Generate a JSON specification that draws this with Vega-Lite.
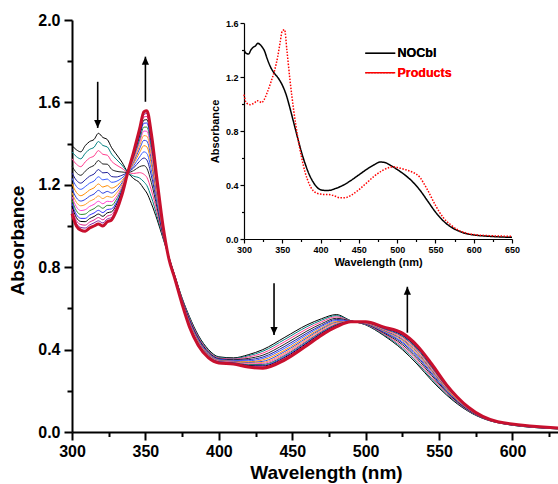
{
"$schema":"https://vega.github.io/schema/vega-lite/v6.json",
"width":486,"height":412,
"autosize":{"type":"none"},
"padding":{"left":72,"top":20,"right":0,"bottom":52},
"background":"white",
"config":{"view":{"stroke":null},"font":"Liberation Sans",
"axis":{"grid":false,"domainColor":"#000","tickColor":"#000","labelColor":"#000","titleColor":"#000","labelFontWeight":"bold","titleFontWeight":"bold","labelFont":"Liberation Sans","titleFont":"Liberation Sans","labelFlush":false,"labelOverlap":false}},
"datasets":{
"arrows":[{"w":317.5,"a":1.476,"a2":1.70,"dir":"down"},{"w":350,"a":1.822,"a2":1.603,"dir":"up"},{"w":437.6,"a":0.471,"a2":0.722,"dir":"down"},{"w":528.4,"a":0.705,"a2":0.482,"dir":"up"}],
"inset":[
{"s":"NOCbl","w":300,"a":1.40},{"s":"NOCbl","w":303,"a":1.375},{"s":"NOCbl","w":306,"a":1.37},{"s":"NOCbl","w":309,"a":1.40},{"s":"NOCbl","w":312,"a":1.42},{"s":"NOCbl","w":315,"a":1.43},{"s":"NOCbl","w":318,"a":1.45},{"s":"NOCbl","w":321,"a":1.44},{"s":"NOCbl","w":324,"a":1.42},{"s":"NOCbl","w":327,"a":1.39},{"s":"NOCbl","w":330,"a":1.34},{"s":"NOCbl","w":335,"a":1.27},{"s":"NOCbl","w":340,"a":1.225},{"s":"NOCbl","w":345,"a":1.19},{"s":"NOCbl","w":350,"a":1.14},{"s":"NOCbl","w":355,"a":1.07},{"s":"NOCbl","w":360,"a":0.97},{"s":"NOCbl","w":365,"a":0.86},{"s":"NOCbl","w":370,"a":0.75},{"s":"NOCbl","w":375,"a":0.645},{"s":"NOCbl","w":380,"a":0.555},{"s":"NOCbl","w":385,"a":0.48},{"s":"NOCbl","w":390,"a":0.425},{"s":"NOCbl","w":395,"a":0.385},{"s":"NOCbl","w":400,"a":0.365},{"s":"NOCbl","w":405,"a":0.36},{"s":"NOCbl","w":410,"a":0.36},{"s":"NOCbl","w":420,"a":0.375},{"s":"NOCbl","w":430,"a":0.40},{"s":"NOCbl","w":440,"a":0.435},{"s":"NOCbl","w":450,"a":0.475},{"s":"NOCbl","w":460,"a":0.515},{"s":"NOCbl","w":470,"a":0.55},{"s":"NOCbl","w":478,"a":0.57},{"s":"NOCbl","w":485,"a":0.565},{"s":"NOCbl","w":490,"a":0.55},{"s":"NOCbl","w":500,"a":0.515},{"s":"NOCbl","w":510,"a":0.475},{"s":"NOCbl","w":520,"a":0.425},{"s":"NOCbl","w":530,"a":0.36},{"s":"NOCbl","w":540,"a":0.28},{"s":"NOCbl","w":550,"a":0.20},{"s":"NOCbl","w":560,"a":0.135},{"s":"NOCbl","w":570,"a":0.09},{"s":"NOCbl","w":580,"a":0.06},{"s":"NOCbl","w":590,"a":0.04},{"s":"NOCbl","w":600,"a":0.03},{"s":"NOCbl","w":620,"a":0.02},{"s":"NOCbl","w":650,"a":0.012},
{"s":"Products","w":300,"a":1.07},{"s":"Products","w":302,"a":1.02},{"s":"Products","w":305,"a":1.00},{"s":"Products","w":308,"a":0.995},{"s":"Products","w":311,"a":1.00},{"s":"Products","w":314,"a":1.01},{"s":"Products","w":317,"a":1.025},{"s":"Products","w":320,"a":1.02},{"s":"Products","w":323,"a":1.01},{"s":"Products","w":326,"a":1.03},{"s":"Products","w":330,"a":1.08},{"s":"Products","w":335,"a":1.16},{"s":"Products","w":340,"a":1.25},{"s":"Products","w":344,"a":1.35},{"s":"Products","w":347,"a":1.45},{"s":"Products","w":350,"a":1.54},{"s":"Products","w":353,"a":1.55},{"s":"Products","w":356,"a":1.40},{"s":"Products","w":360,"a":1.18},{"s":"Products","w":365,"a":0.95},{"s":"Products","w":370,"a":0.76},{"s":"Products","w":375,"a":0.61},{"s":"Products","w":380,"a":0.49},{"s":"Products","w":385,"a":0.41},{"s":"Products","w":390,"a":0.36},{"s":"Products","w":395,"a":0.34},{"s":"Products","w":400,"a":0.333},{"s":"Products","w":405,"a":0.33},{"s":"Products","w":410,"a":0.33},{"s":"Products","w":415,"a":0.325},{"s":"Products","w":420,"a":0.315},{"s":"Products","w":425,"a":0.305},{"s":"Products","w":430,"a":0.305},{"s":"Products","w":435,"a":0.31},{"s":"Products","w":440,"a":0.325},{"s":"Products","w":450,"a":0.365},{"s":"Products","w":460,"a":0.415},{"s":"Products","w":470,"a":0.465},{"s":"Products","w":480,"a":0.505},{"s":"Products","w":490,"a":0.53},{"s":"Products","w":495,"a":0.535},{"s":"Products","w":500,"a":0.53},{"s":"Products","w":510,"a":0.515},{"s":"Products","w":520,"a":0.495},{"s":"Products","w":525,"a":0.48},{"s":"Products","w":530,"a":0.455},{"s":"Products","w":535,"a":0.41},{"s":"Products","w":540,"a":0.36},{"s":"Products","w":550,"a":0.25},{"s":"Products","w":560,"a":0.16},{"s":"Products","w":570,"a":0.105},{"s":"Products","w":580,"a":0.065},{"s":"Products","w":590,"a":0.045},{"s":"Products","w":600,"a":0.033},{"s":"Products","w":620,"a":0.025},{"s":"Products","w":650,"a":0.02}
],
"spectra":[
{"c":0,"w":300,"a":1.39},{"c":1,"w":300,"a":1.36},{"c":2,"w":300,"a":1.327},{"c":3,"w":300,"a":1.291},{"c":4,"w":300,"a":1.258},{"c":5,"w":300,"a":1.232},{"c":6,"w":300,"a":1.205},{"c":7,"w":300,"a":1.182},{"c":8,"w":300,"a":1.162},{"c":9,"w":300,"a":1.143},{"c":10,"w":300,"a":1.126},{"c":11,"w":300,"a":1.11},{"c":12,"w":300,"a":1.096},{"c":13,"w":300,"a":1.083},{"c":14,"w":300,"a":1.072},{"c":15,"w":300,"a":1.06},
{"c":0,"w":303,"a":1.37},{"c":1,"w":303,"a":1.337},{"c":2,"w":303,"a":1.3},{"c":3,"w":303,"a":1.259},{"c":4,"w":303,"a":1.222},{"c":5,"w":303,"a":1.192},{"c":6,"w":303,"a":1.163},{"c":7,"w":303,"a":1.137},{"c":8,"w":303,"a":1.115},{"c":9,"w":303,"a":1.093},{"c":10,"w":303,"a":1.074},{"c":11,"w":303,"a":1.056},{"c":12,"w":303,"a":1.041},{"c":13,"w":303,"a":1.026},{"c":14,"w":303,"a":1.013},{"c":15,"w":303,"a":1.0},
{"c":0,"w":306,"a":1.36},{"c":1,"w":306,"a":1.326},{"c":2,"w":306,"a":1.288},{"c":3,"w":306,"a":1.246},{"c":4,"w":306,"a":1.208},{"c":5,"w":306,"a":1.178},{"c":6,"w":306,"a":1.147},{"c":7,"w":306,"a":1.121},{"c":8,"w":306,"a":1.098},{"c":9,"w":306,"a":1.075},{"c":10,"w":306,"a":1.056},{"c":11,"w":306,"a":1.037},{"c":12,"w":306,"a":1.022},{"c":13,"w":306,"a":1.007},{"c":14,"w":306,"a":0.993},{"c":15,"w":306,"a":0.98},
{"c":0,"w":309,"a":1.39},{"c":1,"w":309,"a":1.353},{"c":2,"w":309,"a":1.311},{"c":3,"w":309,"a":1.266},{"c":4,"w":309,"a":1.224},{"c":5,"w":309,"a":1.191},{"c":6,"w":309,"a":1.158},{"c":7,"w":309,"a":1.129},{"c":8,"w":309,"a":1.104},{"c":9,"w":309,"a":1.079},{"c":10,"w":309,"a":1.058},{"c":11,"w":309,"a":1.037},{"c":12,"w":309,"a":1.021},{"c":13,"w":309,"a":1.004},{"c":14,"w":309,"a":0.99},{"c":15,"w":309,"a":0.975},
{"c":0,"w":312,"a":1.41},{"c":1,"w":312,"a":1.372},{"c":2,"w":312,"a":1.33},{"c":3,"w":312,"a":1.284},{"c":4,"w":312,"a":1.242},{"c":5,"w":312,"a":1.208},{"c":6,"w":312,"a":1.175},{"c":7,"w":312,"a":1.145},{"c":8,"w":312,"a":1.12},{"c":9,"w":312,"a":1.095},{"c":10,"w":312,"a":1.074},{"c":11,"w":312,"a":1.053},{"c":12,"w":312,"a":1.036},{"c":13,"w":312,"a":1.019},{"c":14,"w":312,"a":1.005},{"c":15,"w":312,"a":0.99},
{"c":0,"w":315,"a":1.42},{"c":1,"w":315,"a":1.382},{"c":2,"w":315,"a":1.34},{"c":3,"w":315,"a":1.294},{"c":4,"w":315,"a":1.252},{"c":5,"w":315,"a":1.218},{"c":6,"w":315,"a":1.185},{"c":7,"w":315,"a":1.155},{"c":8,"w":315,"a":1.13},{"c":9,"w":315,"a":1.105},{"c":10,"w":315,"a":1.084},{"c":11,"w":315,"a":1.063},{"c":12,"w":315,"a":1.046},{"c":13,"w":315,"a":1.029},{"c":14,"w":315,"a":1.015},{"c":15,"w":315,"a":1.0},
{"c":0,"w":318,"a":1.45},{"c":1,"w":318,"a":1.41},{"c":2,"w":318,"a":1.366},{"c":3,"w":318,"a":1.318},{"c":4,"w":318,"a":1.274},{"c":5,"w":318,"a":1.239},{"c":6,"w":318,"a":1.204},{"c":7,"w":318,"a":1.173},{"c":8,"w":318,"a":1.146},{"c":9,"w":318,"a":1.12},{"c":10,"w":318,"a":1.098},{"c":11,"w":318,"a":1.076},{"c":12,"w":318,"a":1.058},{"c":13,"w":318,"a":1.041},{"c":14,"w":318,"a":1.025},{"c":15,"w":318,"a":1.01},
{"c":0,"w":321,"a":1.43},{"c":1,"w":321,"a":1.391},{"c":2,"w":321,"a":1.348},{"c":3,"w":321,"a":1.301},{"c":4,"w":321,"a":1.258},{"c":5,"w":321,"a":1.224},{"c":6,"w":321,"a":1.189},{"c":7,"w":321,"a":1.159},{"c":8,"w":321,"a":1.133},{"c":9,"w":321,"a":1.108},{"c":10,"w":321,"a":1.086},{"c":11,"w":321,"a":1.065},{"c":12,"w":321,"a":1.047},{"c":13,"w":321,"a":1.03},{"c":14,"w":321,"a":1.015},{"c":15,"w":321,"a":1.0},
{"c":0,"w":324,"a":1.42},{"c":1,"w":324,"a":1.384},{"c":2,"w":324,"a":1.344},{"c":3,"w":324,"a":1.3},{"c":4,"w":324,"a":1.26},{"c":5,"w":324,"a":1.228},{"c":6,"w":324,"a":1.196},{"c":7,"w":324,"a":1.168},{"c":8,"w":324,"a":1.144},{"c":9,"w":324,"a":1.12},{"c":10,"w":324,"a":1.1},{"c":11,"w":324,"a":1.08},{"c":12,"w":324,"a":1.064},{"c":13,"w":324,"a":1.048},{"c":14,"w":324,"a":1.034},{"c":15,"w":324,"a":1.02},
{"c":0,"w":327,"a":1.38},{"c":1,"w":327,"a":1.349},{"c":2,"w":327,"a":1.314},{"c":3,"w":327,"a":1.275},{"c":4,"w":327,"a":1.24},{"c":5,"w":327,"a":1.212},{"c":6,"w":327,"a":1.184},{"c":7,"w":327,"a":1.16},{"c":8,"w":327,"a":1.139},{"c":9,"w":327,"a":1.118},{"c":10,"w":327,"a":1.1},{"c":11,"w":327,"a":1.083},{"c":12,"w":327,"a":1.069},{"c":13,"w":327,"a":1.055},{"c":14,"w":327,"a":1.042},{"c":15,"w":327,"a":1.03},
{"c":0,"w":330,"a":1.35},{"c":1,"w":330,"a":1.325},{"c":2,"w":330,"a":1.297},{"c":3,"w":330,"a":1.266},{"c":4,"w":330,"a":1.238},{"c":5,"w":330,"a":1.216},{"c":6,"w":330,"a":1.193},{"c":7,"w":330,"a":1.174},{"c":8,"w":330,"a":1.157},{"c":9,"w":330,"a":1.14},{"c":10,"w":330,"a":1.126},{"c":11,"w":330,"a":1.112},{"c":12,"w":330,"a":1.101},{"c":13,"w":330,"a":1.09},{"c":14,"w":330,"a":1.08},{"c":15,"w":330,"a":1.07},
{"c":0,"w":334,"a":1.31},{"c":1,"w":334,"a":1.296},{"c":2,"w":334,"a":1.28},{"c":3,"w":334,"a":1.262},{"c":4,"w":334,"a":1.246},{"c":5,"w":334,"a":1.233},{"c":6,"w":334,"a":1.22},{"c":7,"w":334,"a":1.209},{"c":8,"w":334,"a":1.2},{"c":9,"w":334,"a":1.19},{"c":10,"w":334,"a":1.182},{"c":11,"w":334,"a":1.174},{"c":12,"w":334,"a":1.168},{"c":13,"w":334,"a":1.161},{"c":14,"w":334,"a":1.156},{"c":15,"w":334,"a":1.15},
{"c":0,"w":338,"a":1.26},{"c":1,"w":338,"a":1.26},{"c":2,"w":338,"a":1.26},{"c":3,"w":338,"a":1.26},{"c":4,"w":338,"a":1.26},{"c":5,"w":338,"a":1.26},{"c":6,"w":338,"a":1.26},{"c":7,"w":338,"a":1.26},{"c":8,"w":338,"a":1.26},{"c":9,"w":338,"a":1.26},{"c":10,"w":338,"a":1.26},{"c":11,"w":338,"a":1.26},{"c":12,"w":338,"a":1.26},{"c":13,"w":338,"a":1.26},{"c":14,"w":338,"a":1.26},{"c":15,"w":338,"a":1.26},
{"c":0,"w":342,"a":1.23},{"c":1,"w":342,"a":1.242},{"c":2,"w":342,"a":1.255},{"c":3,"w":342,"a":1.269},{"c":4,"w":342,"a":1.282},{"c":5,"w":342,"a":1.292},{"c":6,"w":342,"a":1.303},{"c":7,"w":342,"a":1.312},{"c":8,"w":342,"a":1.32},{"c":9,"w":342,"a":1.328},{"c":10,"w":342,"a":1.334},{"c":11,"w":342,"a":1.341},{"c":12,"w":342,"a":1.346},{"c":13,"w":342,"a":1.351},{"c":14,"w":342,"a":1.356},{"c":15,"w":342,"a":1.36},
{"c":0,"w":346,"a":1.21},{"c":1,"w":346,"a":1.233},{"c":2,"w":346,"a":1.259},{"c":3,"w":346,"a":1.288},{"c":4,"w":346,"a":1.314},{"c":5,"w":346,"a":1.335},{"c":6,"w":346,"a":1.356},{"c":7,"w":346,"a":1.374},{"c":8,"w":346,"a":1.389},{"c":9,"w":346,"a":1.405},{"c":10,"w":346,"a":1.418},{"c":11,"w":346,"a":1.431},{"c":12,"w":346,"a":1.441},{"c":13,"w":346,"a":1.452},{"c":14,"w":346,"a":1.461},{"c":15,"w":346,"a":1.47},
{"c":0,"w":349,"a":1.18},{"c":1,"w":349,"a":1.214},{"c":2,"w":349,"a":1.251},{"c":3,"w":349,"a":1.293},{"c":4,"w":349,"a":1.33},{"c":5,"w":349,"a":1.36},{"c":6,"w":349,"a":1.39},{"c":7,"w":349,"a":1.416},{"c":8,"w":349,"a":1.439},{"c":9,"w":349,"a":1.461},{"c":10,"w":349,"a":1.48},{"c":11,"w":349,"a":1.499},{"c":12,"w":349,"a":1.514},{"c":13,"w":349,"a":1.529},{"c":14,"w":349,"a":1.542},{"c":15,"w":349,"a":1.555},
{"c":0,"w":351,"a":1.16},{"c":1,"w":351,"a":1.196},{"c":2,"w":351,"a":1.236},{"c":3,"w":351,"a":1.28},{"c":4,"w":351,"a":1.32},{"c":5,"w":351,"a":1.352},{"c":6,"w":351,"a":1.384},{"c":7,"w":351,"a":1.412},{"c":8,"w":351,"a":1.436},{"c":9,"w":351,"a":1.46},{"c":10,"w":351,"a":1.48},{"c":11,"w":351,"a":1.5},{"c":12,"w":351,"a":1.516},{"c":13,"w":351,"a":1.532},{"c":14,"w":351,"a":1.546},{"c":15,"w":351,"a":1.56},
{"c":0,"w":354,"a":1.11},{"c":1,"w":354,"a":1.141},{"c":2,"w":354,"a":1.175},{"c":3,"w":354,"a":1.212},{"c":4,"w":354,"a":1.246},{"c":5,"w":354,"a":1.273},{"c":6,"w":354,"a":1.3},{"c":7,"w":354,"a":1.324},{"c":8,"w":354,"a":1.345},{"c":9,"w":354,"a":1.365},{"c":10,"w":354,"a":1.382},{"c":11,"w":354,"a":1.399},{"c":12,"w":354,"a":1.413},{"c":13,"w":354,"a":1.426},{"c":14,"w":354,"a":1.438},{"c":15,"w":354,"a":1.45},
{"c":0,"w":358,"a":1.03},{"c":1,"w":358,"a":1.047},{"c":2,"w":358,"a":1.066},{"c":3,"w":358,"a":1.087},{"c":4,"w":358,"a":1.106},{"c":5,"w":358,"a":1.121},{"c":6,"w":358,"a":1.136},{"c":7,"w":358,"a":1.15},{"c":8,"w":358,"a":1.161},{"c":9,"w":358,"a":1.173},{"c":10,"w":358,"a":1.182},{"c":11,"w":358,"a":1.192},{"c":12,"w":358,"a":1.199},{"c":13,"w":358,"a":1.207},{"c":14,"w":358,"a":1.213},{"c":15,"w":358,"a":1.22},
{"c":0,"w":362,"a":0.94},{"c":1,"w":362,"a":0.945},{"c":2,"w":362,"a":0.951},{"c":3,"w":362,"a":0.958},{"c":4,"w":362,"a":0.964},{"c":5,"w":362,"a":0.969},{"c":6,"w":362,"a":0.974},{"c":7,"w":362,"a":0.978},{"c":8,"w":362,"a":0.981},{"c":9,"w":362,"a":0.985},{"c":10,"w":362,"a":0.988},{"c":11,"w":362,"a":0.991},{"c":12,"w":362,"a":0.993},{"c":13,"w":362,"a":0.996},{"c":14,"w":362,"a":0.998},{"c":15,"w":362,"a":1.0},
{"c":0,"w":366,"a":0.85},{"c":1,"w":366,"a":0.849},{"c":2,"w":366,"a":0.848},{"c":3,"w":366,"a":0.847},{"c":4,"w":366,"a":0.846},{"c":5,"w":366,"a":0.845},{"c":6,"w":366,"a":0.844},{"c":7,"w":366,"a":0.844},{"c":8,"w":366,"a":0.843},{"c":9,"w":366,"a":0.843},{"c":10,"w":366,"a":0.842},{"c":11,"w":366,"a":0.842},{"c":12,"w":366,"a":0.841},{"c":13,"w":366,"a":0.841},{"c":14,"w":366,"a":0.84},{"c":15,"w":366,"a":0.84},
{"c":0,"w":370,"a":0.76},{"c":1,"w":370,"a":0.759},{"c":2,"w":370,"a":0.757},{"c":3,"w":370,"a":0.756},{"c":4,"w":370,"a":0.754},{"c":5,"w":370,"a":0.753},{"c":6,"w":370,"a":0.752},{"c":7,"w":370,"a":0.751},{"c":8,"w":370,"a":0.75},{"c":9,"w":370,"a":0.749},{"c":10,"w":370,"a":0.748},{"c":11,"w":370,"a":0.747},{"c":12,"w":370,"a":0.747},{"c":13,"w":370,"a":0.746},{"c":14,"w":370,"a":0.746},{"c":15,"w":370,"a":0.745},
{"c":0,"w":375,"a":0.65},{"c":1,"w":375,"a":0.647},{"c":2,"w":375,"a":0.644},{"c":3,"w":375,"a":0.641},{"c":4,"w":375,"a":0.638},{"c":5,"w":375,"a":0.636},{"c":6,"w":375,"a":0.633},{"c":7,"w":375,"a":0.631},{"c":8,"w":375,"a":0.629},{"c":9,"w":375,"a":0.628},{"c":10,"w":375,"a":0.626},{"c":11,"w":375,"a":0.625},{"c":12,"w":375,"a":0.623},{"c":13,"w":375,"a":0.622},{"c":14,"w":375,"a":0.621},{"c":15,"w":375,"a":0.62},
{"c":0,"w":380,"a":0.56},{"c":1,"w":380,"a":0.556},{"c":2,"w":380,"a":0.551},{"c":3,"w":380,"a":0.545},{"c":4,"w":380,"a":0.54},{"c":5,"w":380,"a":0.536},{"c":6,"w":380,"a":0.532},{"c":7,"w":380,"a":0.529},{"c":8,"w":380,"a":0.526},{"c":9,"w":380,"a":0.523},{"c":10,"w":380,"a":0.52},{"c":11,"w":380,"a":0.518},{"c":12,"w":380,"a":0.516},{"c":13,"w":380,"a":0.514},{"c":14,"w":380,"a":0.512},{"c":15,"w":380,"a":0.51},
{"c":0,"w":386,"a":0.47},{"c":1,"w":386,"a":0.466},{"c":2,"w":386,"a":0.461},{"c":3,"w":386,"a":0.455},{"c":4,"w":386,"a":0.45},{"c":5,"w":386,"a":0.446},{"c":6,"w":386,"a":0.442},{"c":7,"w":386,"a":0.439},{"c":8,"w":386,"a":0.436},{"c":9,"w":386,"a":0.433},{"c":10,"w":386,"a":0.43},{"c":11,"w":386,"a":0.428},{"c":12,"w":386,"a":0.426},{"c":13,"w":386,"a":0.424},{"c":14,"w":386,"a":0.422},{"c":15,"w":386,"a":0.42},
{"c":0,"w":393,"a":0.4},{"c":1,"w":393,"a":0.396},{"c":2,"w":393,"a":0.392},{"c":3,"w":393,"a":0.388},{"c":4,"w":393,"a":0.384},{"c":5,"w":393,"a":0.381},{"c":6,"w":393,"a":0.378},{"c":7,"w":393,"a":0.375},{"c":8,"w":393,"a":0.372},{"c":9,"w":393,"a":0.37},{"c":10,"w":393,"a":0.368},{"c":11,"w":393,"a":0.366},{"c":12,"w":393,"a":0.364},{"c":13,"w":393,"a":0.363},{"c":14,"w":393,"a":0.361},{"c":15,"w":393,"a":0.36},
{"c":0,"w":400,"a":0.365},{"c":1,"w":400,"a":0.362},{"c":2,"w":400,"a":0.359},{"c":3,"w":400,"a":0.356},{"c":4,"w":400,"a":0.353},{"c":5,"w":400,"a":0.351},{"c":6,"w":400,"a":0.348},{"c":7,"w":400,"a":0.346},{"c":8,"w":400,"a":0.344},{"c":9,"w":400,"a":0.343},{"c":10,"w":400,"a":0.341},{"c":11,"w":400,"a":0.34},{"c":12,"w":400,"a":0.338},{"c":13,"w":400,"a":0.337},{"c":14,"w":400,"a":0.336},{"c":15,"w":400,"a":0.335},
{"c":0,"w":410,"a":0.36},{"c":1,"w":410,"a":0.357},{"c":2,"w":410,"a":0.354},{"c":3,"w":410,"a":0.351},{"c":4,"w":410,"a":0.348},{"c":5,"w":410,"a":0.346},{"c":6,"w":410,"a":0.343},{"c":7,"w":410,"a":0.341},{"c":8,"w":410,"a":0.339},{"c":9,"w":410,"a":0.338},{"c":10,"w":410,"a":0.336},{"c":11,"w":410,"a":0.335},{"c":12,"w":410,"a":0.333},{"c":13,"w":410,"a":0.332},{"c":14,"w":410,"a":0.331},{"c":15,"w":410,"a":0.33},
{"c":0,"w":420,"a":0.375},{"c":1,"w":420,"a":0.37},{"c":2,"w":420,"a":0.364},{"c":3,"w":420,"a":0.357},{"c":4,"w":420,"a":0.351},{"c":5,"w":420,"a":0.346},{"c":6,"w":420,"a":0.341},{"c":7,"w":420,"a":0.337},{"c":8,"w":420,"a":0.334},{"c":9,"w":420,"a":0.33},{"c":10,"w":420,"a":0.327},{"c":11,"w":420,"a":0.324},{"c":12,"w":420,"a":0.322},{"c":13,"w":420,"a":0.319},{"c":14,"w":420,"a":0.317},{"c":15,"w":420,"a":0.315},
{"c":0,"w":430,"a":0.4},{"c":1,"w":430,"a":0.392},{"c":2,"w":430,"a":0.383},{"c":3,"w":430,"a":0.373},{"c":4,"w":430,"a":0.364},{"c":5,"w":430,"a":0.357},{"c":6,"w":430,"a":0.35},{"c":7,"w":430,"a":0.343},{"c":8,"w":430,"a":0.338},{"c":9,"w":430,"a":0.333},{"c":10,"w":430,"a":0.328},{"c":11,"w":430,"a":0.324},{"c":12,"w":430,"a":0.32},{"c":13,"w":430,"a":0.316},{"c":14,"w":430,"a":0.313},{"c":15,"w":430,"a":0.31},
{"c":0,"w":445,"a":0.46},{"c":1,"w":445,"a":0.45},{"c":2,"w":445,"a":0.439},{"c":3,"w":445,"a":0.427},{"c":4,"w":445,"a":0.416},{"c":5,"w":445,"a":0.407},{"c":6,"w":445,"a":0.398},{"c":7,"w":445,"a":0.391},{"c":8,"w":445,"a":0.384},{"c":9,"w":445,"a":0.378},{"c":10,"w":445,"a":0.372},{"c":11,"w":445,"a":0.367},{"c":12,"w":445,"a":0.362},{"c":13,"w":445,"a":0.358},{"c":14,"w":445,"a":0.354},{"c":15,"w":445,"a":0.35},
{"c":0,"w":460,"a":0.52},{"c":1,"w":460,"a":0.511},{"c":2,"w":460,"a":0.501},{"c":3,"w":460,"a":0.49},{"c":4,"w":460,"a":0.48},{"c":5,"w":460,"a":0.472},{"c":6,"w":460,"a":0.464},{"c":7,"w":460,"a":0.457},{"c":8,"w":460,"a":0.451},{"c":9,"w":460,"a":0.445},{"c":10,"w":460,"a":0.44},{"c":11,"w":460,"a":0.435},{"c":12,"w":460,"a":0.431},{"c":13,"w":460,"a":0.427},{"c":14,"w":460,"a":0.424},{"c":15,"w":460,"a":0.42},
{"c":0,"w":470,"a":0.55},{"c":1,"w":470,"a":0.543},{"c":2,"w":470,"a":0.535},{"c":3,"w":470,"a":0.526},{"c":4,"w":470,"a":0.518},{"c":5,"w":470,"a":0.512},{"c":6,"w":470,"a":0.505},{"c":7,"w":470,"a":0.5},{"c":8,"w":470,"a":0.495},{"c":9,"w":470,"a":0.49},{"c":10,"w":470,"a":0.486},{"c":11,"w":470,"a":0.482},{"c":12,"w":470,"a":0.479},{"c":13,"w":470,"a":0.476},{"c":14,"w":470,"a":0.473},{"c":15,"w":470,"a":0.47},
{"c":0,"w":480,"a":0.57},{"c":1,"w":480,"a":0.565},{"c":2,"w":480,"a":0.559},{"c":3,"w":480,"a":0.552},{"c":4,"w":480,"a":0.546},{"c":5,"w":480,"a":0.541},{"c":6,"w":480,"a":0.536},{"c":7,"w":480,"a":0.532},{"c":8,"w":480,"a":0.529},{"c":9,"w":480,"a":0.525},{"c":10,"w":480,"a":0.522},{"c":11,"w":480,"a":0.519},{"c":12,"w":480,"a":0.517},{"c":13,"w":480,"a":0.514},{"c":14,"w":480,"a":0.512},{"c":15,"w":480,"a":0.51},
{"c":0,"w":490,"a":0.54},{"c":1,"w":490,"a":0.54},{"c":2,"w":490,"a":0.539},{"c":3,"w":490,"a":0.539},{"c":4,"w":490,"a":0.538},{"c":5,"w":490,"a":0.538},{"c":6,"w":490,"a":0.537},{"c":7,"w":490,"a":0.537},{"c":8,"w":490,"a":0.537},{"c":9,"w":490,"a":0.536},{"c":10,"w":490,"a":0.536},{"c":11,"w":490,"a":0.536},{"c":12,"w":490,"a":0.536},{"c":13,"w":490,"a":0.535},{"c":14,"w":490,"a":0.535},{"c":15,"w":490,"a":0.535},
{"c":0,"w":500,"a":0.52},{"c":1,"w":500,"a":0.521},{"c":2,"w":500,"a":0.523},{"c":3,"w":500,"a":0.525},{"c":4,"w":500,"a":0.526},{"c":5,"w":500,"a":0.527},{"c":6,"w":500,"a":0.528},{"c":7,"w":500,"a":0.529},{"c":8,"w":500,"a":0.53},{"c":9,"w":500,"a":0.531},{"c":10,"w":500,"a":0.532},{"c":11,"w":500,"a":0.533},{"c":12,"w":500,"a":0.533},{"c":13,"w":500,"a":0.534},{"c":14,"w":500,"a":0.534},{"c":15,"w":500,"a":0.535},
{"c":0,"w":512,"a":0.47},{"c":1,"w":512,"a":0.474},{"c":2,"w":512,"a":0.478},{"c":3,"w":512,"a":0.482},{"c":4,"w":512,"a":0.486},{"c":5,"w":512,"a":0.489},{"c":6,"w":512,"a":0.492},{"c":7,"w":512,"a":0.495},{"c":8,"w":512,"a":0.498},{"c":9,"w":512,"a":0.5},{"c":10,"w":512,"a":0.502},{"c":11,"w":512,"a":0.504},{"c":12,"w":512,"a":0.506},{"c":13,"w":512,"a":0.507},{"c":14,"w":512,"a":0.509},{"c":15,"w":512,"a":0.51},
{"c":0,"w":525,"a":0.4},{"c":1,"w":525,"a":0.407},{"c":2,"w":525,"a":0.415},{"c":3,"w":525,"a":0.424},{"c":4,"w":525,"a":0.432},{"c":5,"w":525,"a":0.438},{"c":6,"w":525,"a":0.445},{"c":7,"w":525,"a":0.45},{"c":8,"w":525,"a":0.455},{"c":9,"w":525,"a":0.46},{"c":10,"w":525,"a":0.464},{"c":11,"w":525,"a":0.468},{"c":12,"w":525,"a":0.471},{"c":13,"w":525,"a":0.474},{"c":14,"w":525,"a":0.477},{"c":15,"w":525,"a":0.48},
{"c":0,"w":535,"a":0.33},{"c":1,"w":535,"a":0.338},{"c":2,"w":535,"a":0.347},{"c":3,"w":535,"a":0.357},{"c":4,"w":535,"a":0.366},{"c":5,"w":535,"a":0.373},{"c":6,"w":535,"a":0.38},{"c":7,"w":535,"a":0.387},{"c":8,"w":535,"a":0.392},{"c":9,"w":535,"a":0.398},{"c":10,"w":535,"a":0.402},{"c":11,"w":535,"a":0.407},{"c":12,"w":535,"a":0.41},{"c":13,"w":535,"a":0.414},{"c":14,"w":535,"a":0.417},{"c":15,"w":535,"a":0.42},
{"c":0,"w":545,"a":0.25},{"c":1,"w":545,"a":0.257},{"c":2,"w":545,"a":0.265},{"c":3,"w":545,"a":0.274},{"c":4,"w":545,"a":0.282},{"c":5,"w":545,"a":0.288},{"c":6,"w":545,"a":0.295},{"c":7,"w":545,"a":0.3},{"c":8,"w":545,"a":0.305},{"c":9,"w":545,"a":0.31},{"c":10,"w":545,"a":0.314},{"c":11,"w":545,"a":0.318},{"c":12,"w":545,"a":0.321},{"c":13,"w":545,"a":0.324},{"c":14,"w":545,"a":0.327},{"c":15,"w":545,"a":0.33},
{"c":0,"w":555,"a":0.18},{"c":1,"w":555,"a":0.185},{"c":2,"w":555,"a":0.19},{"c":3,"w":555,"a":0.195},{"c":4,"w":555,"a":0.2},{"c":5,"w":555,"a":0.204},{"c":6,"w":555,"a":0.208},{"c":7,"w":555,"a":0.212},{"c":8,"w":555,"a":0.215},{"c":9,"w":555,"a":0.218},{"c":10,"w":555,"a":0.22},{"c":11,"w":555,"a":0.223},{"c":12,"w":555,"a":0.225},{"c":13,"w":555,"a":0.227},{"c":14,"w":555,"a":0.228},{"c":15,"w":555,"a":0.23},
{"c":0,"w":570,"a":0.1},{"c":1,"w":570,"a":0.102},{"c":2,"w":570,"a":0.104},{"c":3,"w":570,"a":0.106},{"c":4,"w":570,"a":0.108},{"c":5,"w":570,"a":0.11},{"c":6,"w":570,"a":0.111},{"c":7,"w":570,"a":0.113},{"c":8,"w":570,"a":0.114},{"c":9,"w":570,"a":0.115},{"c":10,"w":570,"a":0.116},{"c":11,"w":570,"a":0.117},{"c":12,"w":570,"a":0.118},{"c":13,"w":570,"a":0.119},{"c":14,"w":570,"a":0.119},{"c":15,"w":570,"a":0.12},
{"c":0,"w":590,"a":0.045},{"c":1,"w":590,"a":0.045},{"c":2,"w":590,"a":0.046},{"c":3,"w":590,"a":0.047},{"c":4,"w":590,"a":0.047},{"c":5,"w":590,"a":0.047},{"c":6,"w":590,"a":0.048},{"c":7,"w":590,"a":0.048},{"c":8,"w":590,"a":0.048},{"c":9,"w":590,"a":0.049},{"c":10,"w":590,"a":0.049},{"c":11,"w":590,"a":0.049},{"c":12,"w":590,"a":0.049},{"c":13,"w":590,"a":0.05},{"c":14,"w":590,"a":0.05},{"c":15,"w":590,"a":0.05},
{"c":0,"w":631,"a":0.015},{"c":1,"w":631,"a":0.015},{"c":2,"w":631,"a":0.016},{"c":3,"w":631,"a":0.017},{"c":4,"w":631,"a":0.017},{"c":5,"w":631,"a":0.017},{"c":6,"w":631,"a":0.018},{"c":7,"w":631,"a":0.018},{"c":8,"w":631,"a":0.018},{"c":9,"w":631,"a":0.019},{"c":10,"w":631,"a":0.019},{"c":11,"w":631,"a":0.019},{"c":12,"w":631,"a":0.019},{"c":13,"w":631,"a":0.02},{"c":14,"w":631,"a":0.02},{"c":15,"w":631,"a":0.02}
]},
"layer":[
{"encoding":{
"x":{"field":"w","type":"quantitative","scale":{"domain":[300,631],"nice":false,"zero":false},
"axis":{"title":"Wavelength (nm)","values":[300,325,350,375,400,425,450,475,500,525,550,575,600,625],"format":"d","labelExpr":"datum.value % 50 === 0 ? datum.label : ''","tickSize":{"condition":{"test":"datum.value % 50 === 0","value":8},"value":4.5},"tickWidth":2,"domainWidth":2,"labelFontSize":16,"labelPadding":3,"titleFontSize":19,"titlePadding":4,"titleX":254,"titleAlign":"center"}},
"y":{"field":"a","type":"quantitative","scale":{"domain":[0,2],"nice":false,"zero":false},
"axis":{"title":"Absorbance","values":[0,0.2,0.4,0.6,0.8,1.0,1.2,1.4,1.6,1.8,2.0],"format":".1f","labelExpr":"round(datum.value*10) % 4 === 0 ? datum.label : ''","tickSize":{"condition":{"test":"round(datum.value*10) % 4 === 0","value":8},"value":5},"tickWidth":2,"domainWidth":2,"labelFontSize":16,"labelPadding":4,"titleFontSize":19,"titlePadding":10,"titleY":220}}},
"layer":[
{"data":{"name":"spectra"},"transform":[{"filter":"datum.c < 15"}],
"mark":{"type":"line","interpolate":"monotone","strokeWidth":1},
"encoding":{"color":{"field":"c","type":"nominal","scale":{"domain":[0,1,2,3,4,5,6,7,8,9,10,11,12,13,14],"range":["#000000","#008080","#FF3C8E","#222222","#1F1F99","#3A5BFF","#FF8C00","#2A3FE0","#FFA030","#FF40D0","#2E8B2E","#3030FF","#000000","#E0208A","#7B1FA2"]},"legend":null}}},
{"data":{"name":"spectra"},"transform":[{"filter":"datum.c == 15"}],
"mark":{"type":"line","interpolate":"monotone","strokeWidth":3,"color":"#C8102E"}},
{"data":{"name":"arrows"},"mark":{"type":"rule","strokeWidth":1.6,"color":"#000000"},
"encoding":{"y2":{"field":"a2"}}},
{"data":{"name":"arrows"},"mark":{"type":"point","filled":true,"color":"#000000","size":64,"opacity":1,"strokeWidth":0},
"encoding":{"shape":{"field":"dir","type":"nominal","scale":{"domain":["down","up"],"range":["M0,0L-0.9,-2L0.9,-2Z","M0,0L-0.9,2L0.9,2Z"]},"legend":null}}}
]},
{"data":{"name":"inset"},
"mark":{"type":"line","interpolate":"monotone","strokeWidth":1.5},
"encoding":{
"x":{"field":"w","type":"quantitative","scale":{"domain":[300,650],"range":[172,440],"nice":false,"zero":false},
"axis":{"title":"Wavelength (nm)","orient":"bottom","offset":-193,"values":[300,325,350,375,400,425,450,475,500,525,550,575,600,625,650],"format":"d","labelExpr":"datum.value % 50 === 0 ? datum.label : ''","tickSize":{"condition":{"test":"datum.value % 50 === 0","value":4},"value":2.5},"tickWidth":1.2,"domainWidth":1.2,"labelFontSize":9,"labelPadding":2,"titleFontSize":11,"titlePadding":2}},
"y":{"field":"a","type":"quantitative","scale":{"domain":[0,1.6],"range":[219,3],"nice":false,"zero":false},
"axis":{"title":"Absorbance","orient":"left","offset":-172,"values":[0,0.2,0.4,0.6,0.8,1.0,1.2,1.4,1.6],"format":".1f","labelExpr":"round(datum.value*10) % 4 === 0 ? datum.label : ''","tickSize":{"condition":{"test":"round(datum.value*10) % 4 === 0","value":4},"value":2.5},"tickWidth":1.2,"domainWidth":1.2,"labelFontSize":9,"labelPadding":2,"titleFontSize":11,"titlePadding":5}},
"color":{"field":"s","type":"nominal","scale":{"domain":["NOCbl","Products"],"range":["#000000","#FF0000"]},
"legend":{"title":null,"orient":"none","legendX":302,"legendY":27,"padding":0,"symbolType":"M-3,0H3","symbolSize":100,"symbolStrokeWidth":1.5,"labelFont":"Liberation Sans","labelFontWeight":"bold","labelFontSize":12.5,"labelOffset":11,"rowPadding":6.5,"labelColor":{"expr":"datum.label === 'Products' ? '#FF0000' : '#000000'"}}},
"strokeDash":{"field":"s","type":"nominal","scale":{"domain":["NOCbl","Products"],"range":[[1,0],[1.5,1.5]]},
"legend":{"title":null,"orient":"none","legendX":302,"legendY":27,"padding":0,"symbolType":"M-3,0H3","symbolSize":100,"symbolStrokeWidth":1.5,"labelFont":"Liberation Sans","labelFontWeight":"bold","labelFontSize":12.5,"labelOffset":11,"rowPadding":6.5,"labelColor":{"expr":"datum.label === 'Products' ? '#FF0000' : '#000000'"}}}}}
],
"resolve":{"scale":{"x":"independent","y":"independent","color":"independent"},"axis":{"x":"independent","y":"independent"}}
}
